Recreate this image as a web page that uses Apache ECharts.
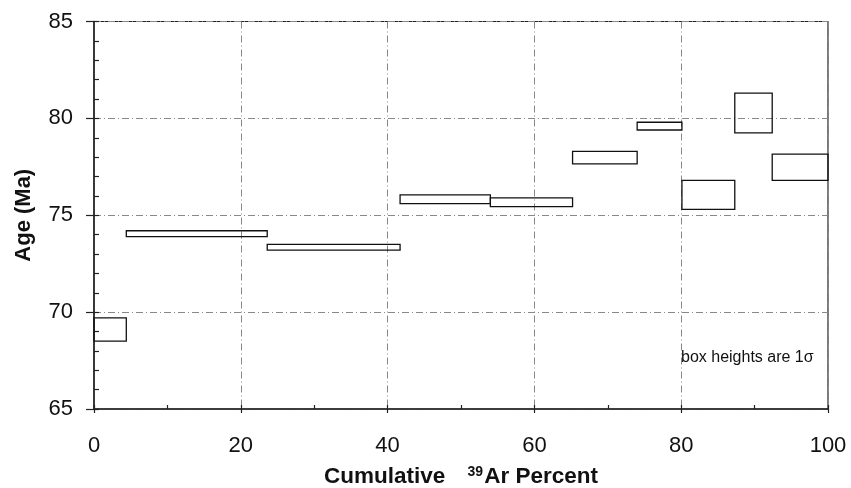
<!DOCTYPE html>
<html>
<head>
<meta charset="utf-8">
<script src="https://cdn.jsdelivr.net/npm/echarts@6/dist/echarts.min.js"></script>
<style>html,body{margin:0;padding:0;background:#fff}#c{width:851px;height:488px}</style>
</head>
<body>
<div id="c"></div>
<script>
// Step boundaries (cumulative 39Ar percent)
const stepEdges = [0, 4.4, 23.6, 41.7, 54.0, 65.2, 74.0, 80.1, 87.3, 92.4, 100];
// Age box bottoms and tops (Ma), 1 sigma
const ageLow  = [68.5, 73.9, 73.2, 75.6, 75.45, 77.65, 79.4, 75.3, 79.25, 76.8];
const ageHigh = [69.7, 74.2, 73.5, 76.05, 75.9, 78.3, 79.8, 76.8, 81.3, 78.15];
const xTicks = [0, 20, 40, 60, 80, 100];
const yTicks = [65, 70, 75, 80, 85];
const note = 'box heights are 1\u03c3';

const boxes = ageLow.map((lo, i) => [stepEdges[i], stepEdges[i + 1], lo, ageHigh[i]]);
const FONT = '"Liberation Sans", Arial, Helvetica, sans-serif';

const chart = echarts.init(document.getElementById('c'), null, {renderer: 'canvas'});
chart.setOption({
  animation: false,
  backgroundColor: '#fff',
  grid: {left: 94, right: 23, top: 21.5, bottom: 79, containLabel: false, outerBoundsMode: 'none',
         show: true, borderColor: '#222', borderWidth: 1.2, backgroundColor: 'transparent'},
  xAxis: [{
    type: 'value', min: xTicks[0], max: xTicks[xTicks.length - 1], interval: 20,
    axisLine: {show: true, lineStyle: {color: '#222', width: 1.5}},
    axisTick: {show: true, inside: false, length: 4, lineStyle: {color: '#222', width: 1.2}},
    axisLabel: {fontFamily: FONT, fontSize: 22, color: '#111', margin: 26},
    splitLine: {show: true, lineStyle: {color: '#888', width: 1, type: [7, 3, 1, 3]}},
    name: '{a|Cumulative }{s|39}{b|Ar Percent}',
    nameLocation: 'middle', nameGap: 56,
    nameTextStyle: {
      rich: {
        a: {fontFamily: FONT, fontSize: 22.5, fontWeight: 'bold', color: '#111', padding: [0, 16, 0, 0]},
        s: {fontFamily: FONT, fontSize: 14, fontWeight: 'bold', color: '#111', verticalAlign: 'top', padding: [0, 1, 10, 0]},
        b: {fontFamily: FONT, fontSize: 22.5, fontWeight: 'bold', color: '#111'}
      }
    }
  }, {
    type: 'value', min: 0, max: 100, interval: 10, position: 'bottom',
    axisLine: {show: false}, axisLabel: {show: false}, splitLine: {show: false},
    axisTick: {show: true, inside: true, length: 4, lineStyle: {color: '#222', width: 1.2}}
  }],
  yAxis: [{
    type: 'value', min: yTicks[0], max: yTicks[yTicks.length - 1], interval: 5,
    axisLine: {show: true, lineStyle: {color: '#222', width: 1.5}},
    axisTick: {show: true, inside: false, length: 8, lineStyle: {color: '#222', width: 1.2}},
    axisLabel: {fontFamily: FONT, fontSize: 22, color: '#111', margin: 21},
    splitLine: {show: true, lineStyle: {color: '#888', width: 1, type: [7, 3, 1, 3]}},
    name: 'Age (Ma)', nameLocation: 'middle', nameGap: 59,
    nameTextStyle: {fontFamily: FONT, fontSize: 22, fontWeight: 'bold', color: '#111'}
  }, {
    type: 'value', min: 65, max: 85, interval: 1, position: 'left', offset: 0,
    axisLine: {show: false}, axisLabel: {show: false}, splitLine: {show: false},
    axisTick: {show: true, inside: true, length: 5, lineStyle: {color: '#222', width: 1.2}}
  }],
  series: [{
    type: 'custom',
    xAxisIndex: 0, yAxisIndex: 0,
    data: boxes,
    renderItem: function (params, api) {
      const p1 = api.coord([api.value(0), api.value(3)]);
      const p2 = api.coord([api.value(1), api.value(2)]);
      return {
        type: 'rect',
        shape: {x: p1[0], y: p1[1], width: p2[0] - p1[0], height: p2[1] - p1[1]},
        style: {fill: 'none', stroke: '#111', lineWidth: 1.3}
      };
    },
    encode: {x: [0, 1], y: [2, 3]}
  }],
  graphic: [{
    type: 'text', left: 681, top: 350,
    style: {text: note, fontFamily: FONT, fontSize: 16, fill: '#111'}
  }]
});
</script>
</body>
</html>
